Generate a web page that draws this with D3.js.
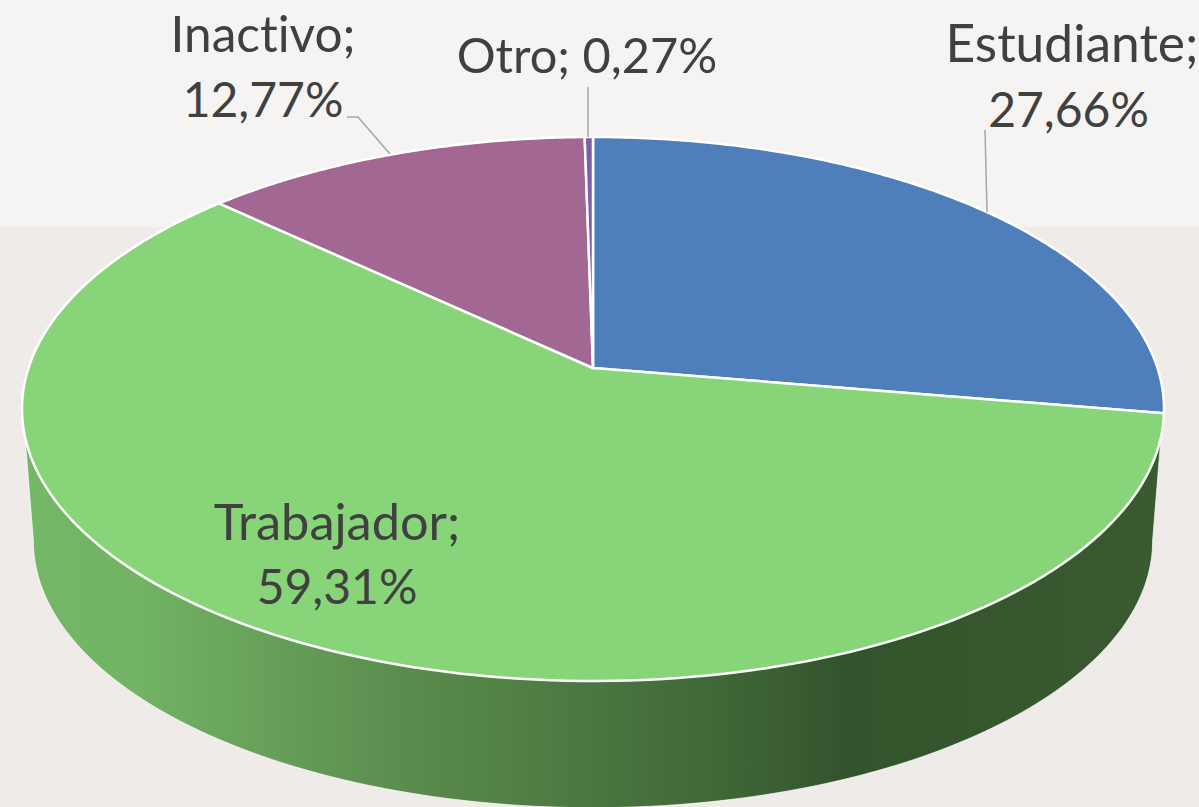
<!DOCTYPE html>
<html><head><meta charset="utf-8">
<script src="https://cdn.jsdelivr.net/npm/d3@7"></script>
<style>html,body{margin:0;padding:0;background:#efebe8;overflow:hidden}svg{display:block}text{font-family:Lato,"Open Sans",sans-serif;font-variant-ligatures:none;font-feature-settings:"liga" 0,"clig" 0,"dlig" 0}</style>
</head><body><svg id="c" width="1199" height="807"></svg>
<script>
const categories = ["Estudiante","Trabajador","Inactivo","Otro"];
const seriesValues = [27.66,59.31,12.77,0.27];
const sliceColors = ["#4e7fbb","#87d578","#a36793","#7d5fa6"];

const W=1199,H=807;
const fmt=v=>v.toFixed(2).replace(".",",")+"%";
const labelSpots = [
  [{x:1072,y:62,fs:51.5,t:(c,v)=>c+";"},{x:1068.5,y:127,fs:48,t:(c,v)=>fmt(v)}],
  [{x:337,y:540,fs:50.5,t:(c,v)=>c+";"},{x:337,y:604,fs:48,t:(c,v)=>fmt(v)}],
  [{x:263,y:52,fs:49.5,t:(c,v)=>c+";"},{x:263,y:117,fs:48,t:(c,v)=>fmt(v)}],
  [{x:587,y:73,fs:48.7,t:(c,v)=>c+"; "+fmt(v)}]
];
const leaders = [
  [[985,130],[987,212]],
  [[347,117],[358,117],[390,154]],
  [[588,87],[588,137]]
];
const svg=d3.select("#c");
svg.append("rect").attr("width",W).attr("height",H).attr("fill","#efebe8");
svg.append("rect").attr("width",W).attr("height",227).attr("fill","#f5f4f2");

// perspective projection of the disc
const cx=593,cy=368,a=564.5,b=265.8,k=-0.1507,depthS=0.98,cyB=501;
const proj=(t,s=1,c=cy)=>{const X=Math.sin(t),Y=-Math.cos(t),w=1+k*Y;return [cx+s*a*X/w,c+s*b*Y/w];};
const pie=d3.pie().sort(null).value(d=>d)(seriesValues);
const line=d3.line();
const arcPts=(t0,t1,s,c)=>d3.range(0,161).map(i=>proj(t0+(t1-t0)*i/160,s,c));

// gradient for the side wall
const defs=svg.append("defs");
const g=defs.append("linearGradient").attr("id","wall").attr("gradientUnits","userSpaceOnUse")
  .attr("x1",24).attr("x2",1164).attr("y1",0).attr("y2",0);
[[0,"#74b867"],[0.1,"#72b364"],[0.32,"#5c8e50"],[0.42,"#528245"],[0.5,"#4a7640"],[0.66,"#3b5f33"],[0.72,"#33532c"],[0.8,"#35552d"],[1,"#3a5a30"]]
 .forEach(s=>g.append("stop").attr("offset",s[0]).attr("stop-color",s[1]));

// side wall: front part of the rim
const tR=Math.PI-Math.acos(0.25), tL=Math.PI+Math.acos(0.25);
const bR=Math.PI-Math.acos(0.15), bL=Math.PI+Math.acos(0.15);
const wall=[...arcPts(tR,tL,1,cy),...arcPts(bL,bR,depthS,cyB)];
svg.append("path").attr("d",line(wall)+"Z").attr("fill","url(#wall)").attr("stroke","#fff").attr("stroke-opacity",0.7).attr("stroke-width",1);

// top slices
svg.selectAll("path.slice").data(pie).join("path").attr("class","slice")
  .attr("d",d=>line([[cx,cy],...arcPts(d.startAngle,d.endAngle,1,cy)])+"Z")
  .attr("fill",(d,i)=>sliceColors[i]).attr("stroke","#fff").attr("stroke-width",2.5).attr("stroke-linejoin","round");

// leaders
svg.selectAll("path.leader").data(leaders).join("path").attr("class","leader")
  .attr("d",d=>line(d)).attr("fill","none").attr("stroke","#a6a6a6").attr("stroke-width",1.5);

// labels
labelSpots.forEach((spots,i)=>spots.forEach(s=>
  svg.append("text").attr("x",s.x).attr("y",s.y).attr("text-anchor","middle")
    .attr("font-size",s.fs).attr("fill","#404040").text(s.t(categories[i],seriesValues[i]))));
</script></body></html>
